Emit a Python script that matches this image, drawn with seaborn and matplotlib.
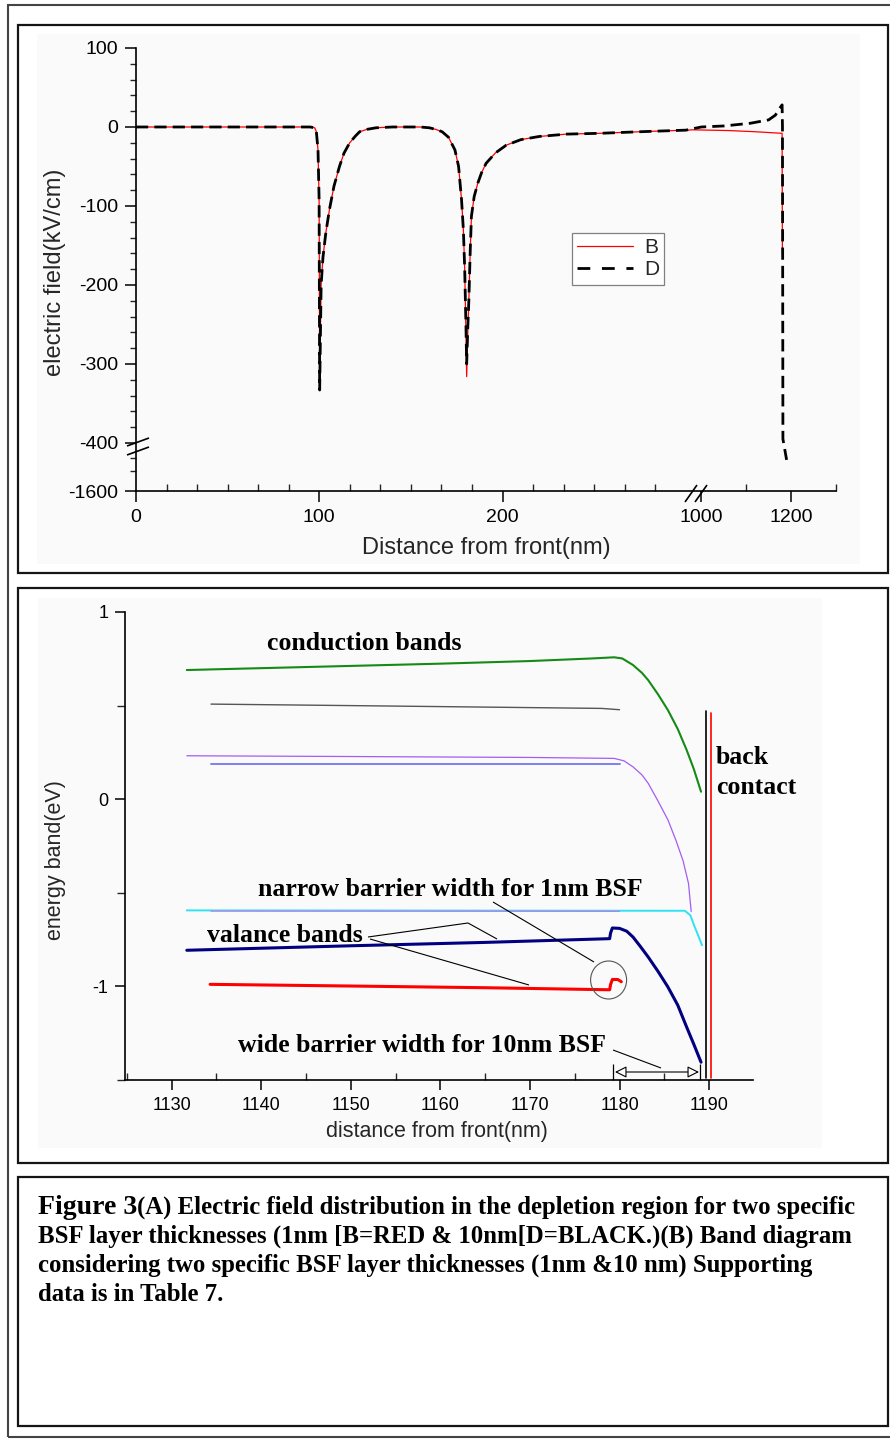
import numpy as np
import matplotlib
matplotlib.use("Agg")
import matplotlib.pyplot as plt
import seaborn as sns
from matplotlib.patches import Rectangle, Ellipse
from matplotlib.lines import Line2D
from matplotlib.ticker import FixedLocator

# ---------------- Panel A data: electric field (kV/cm) vs distance (nm) ----------------
field_x_B = [0, 50, 95, 97.5, 98.4, 99.3, 99.9, 100.2, 101.0, 102.0, 103.5, 105.5, 108,
             111, 113.5, 116.6, 119.5, 122, 126, 131, 140, 155, 160, 163.5, 167, 170.5,
             174, 176, 177.6, 178.6, 179.3, 180.0, 180.4, 181.0, 181.6, 182.3, 183,
             184.5, 186.5, 188.5, 191, 196, 202, 210, 220, 235, 253, 275, 300,
             600, 1000, 1060, 1120, 1180, 1180.6]
field_B = [0, 0, 0, -1, -6, -29, -92, -322, -200, -165, -135, -105, -75,
           -50, -33, -20, -12, -6, -3, -1, 0, 0, -1, -3, -6, -13,
           -29, -50, -92, -130, -177, -260, -316, -260, -219, -160, -113,
           -88, -71, -58, -46, -33, -23, -16, -12, -9, -8, -6, -4,
           -3.6, -3.8, -4.5, -6, -8, -160]

field_x_D = [0, 50, 95, 97.5, 98.4, 99.3, 99.9, 100.2, 101.0, 102.0, 103.5, 105.5, 108,
             111, 113.5, 116.6, 119.5, 122, 126, 131, 140, 155, 160, 163.5, 167, 170.5,
             174, 176, 177.6, 178.6, 179.3, 180.0, 180.4, 181.0, 181.6, 182.3, 183,
             184.5, 186.5, 188.5, 191, 196, 202, 210, 220, 235, 253, 275, 300,
             1000, 1050, 1109, 1150, 1165, 1175, 1180, 1180.8, 1181.3, 1181.8, 1190]
field_D = [0, 0, 0, -1, -6, -29, -92, -333, -200, -165, -135, -105, -75,
           -50, -33, -20, -12, -6, -3, -1, 0, 0, -1, -3, -6, -13,
           -29, -50, -92, -130, -177, -250, -300, -255, -219, -160, -113,
           -88, -71, -58, -46, -33, -23, -16, -12, -9, -8, -6, -4,
           0, 1.3, 4.7, 9, 15, 24, 28, 0, -200, -395, -660]

field_xticks = [0, 100, 200, 1000, 1200]
field_xticklabels = ["0", "100", "200", "1000", "1200"]
field_yticks = [100, 0, -100, -200, -300, -400, -1600]
field_yticklabels = ["100", "0", "-100", "-200", "-300", "-400", "-1600"]

# ---------------- Panel B data: energy bands (eV) vs distance (nm) ----------------
# 10 nm BSF
ec10_x = [1131.7, 1140, 1150, 1160, 1170, 1177, 1179.4, 1180.3, 1181.5, 1182.5, 1183.2,
          1184.3, 1185.4, 1186.5, 1187.5, 1188.3, 1189.1]
ec10 = [0.690, 0.700, 0.712, 0.724, 0.738, 0.752, 0.758, 0.752, 0.717, 0.675, 0.636,
        0.560, 0.476, 0.375, 0.262, 0.160, 0.040]
efn10_x = [1131.7, 1150, 1170, 1179.4, 1180.5, 1181.5, 1182.5, 1183.2, 1184.3, 1185.4,
           1186.3, 1187.1, 1187.7, 1188.0]
efn10 = [0.232, 0.228, 0.223, 0.218, 0.205, 0.173, 0.130, 0.085, -0.010, -0.110,
         -0.220, -0.330, -0.450, -0.600]
efp10_x = [1131.7, 1160, 1187.3, 1187.9, 1188.4, 1188.8, 1189.2]
efp10 = [-0.594, -0.595, -0.596, -0.620, -0.683, -0.730, -0.780]
ev10_x = [1131.7, 1150, 1165, 1178.9, 1179.0, 1179.2, 1180.0, 1180.8, 1181.5, 1182.3,
          1183.2, 1184.3, 1185.4, 1186.5, 1187.5, 1188.3, 1189.1]
ev10 = [-0.807, -0.783, -0.765, -0.745, -0.715, -0.688, -0.690, -0.705, -0.736, -0.785,
        -0.843, -0.920, -1.003, -1.100, -1.218, -1.310, -1.405]
# 1 nm BSF
ec1_x = [1134.4, 1150, 1165, 1178, 1180]
ec1 = [0.508, 0.500, 0.492, 0.485, 0.478]
efn1_x = [1134.4, 1180]
efn1 = [0.188, 0.188]
efp1_x = [1134.4, 1180]
efp1 = [-0.598, -0.599]
ev1_x = [1134.3, 1150, 1165, 1178.9, 1179.0, 1179.2, 1179.8, 1180.2]
ev1 = [-0.989, -0.998, -1.007, -1.018, -0.990, -0.963, -0.963, -0.975]
# back contact positions (nm) and extent (eV)
contact_x = [1189.6, 1190.2]
contact_top = [0.47, 0.46]
contact_bottom = -1.49

band_xticks = [1130, 1140, 1150, 1160, 1170, 1180, 1190]
band_yticks = [-1, 0, 1]

# ---------------- styles ----------------
band_styles = [
    (ec10_x, ec10, "#168a16", 1.5),
    (ec1_x, ec1, "#555555", 1.0),
    (efn10_x, efn10, "#a45cf2", 0.9),
    (efn1_x, efn1, "#7474ee", 1.3),
    (efp10_x, efp10, "#2fe2f2", 1.4),
    (efp1_x, efp1, "#d26ce6", 0.8),
    (ev10_x, ev10, "#000080", 2.2),
    (ev1_x, ev1, "#ff0000", 2.2),
]
contact_colors = ["black", "red"]

sns.set_style("ticks")
plt.rcParams["font.family"] = ["Liberation Sans", "DejaVu Sans"]

W, H = 890, 1441
fig = plt.figure(figsize=(W / 100, H / 100), dpi=100)
fig.patch.set_facecolor("white")


def fx(px):
    return px / W


def fy(py):
    return 1 - py / H


def axes_px(l, t, r, b):
    return fig.add_axes([fx(l), fy(b), (r - l) / W, (b - t) / H])


def rect(l, t, r, b, **kw):
    fig.add_artist(Rectangle((fx(l), fy(b)), (r - l) / W, (b - t) / H,
                             transform=fig.transFigure, **kw))


def pline(pts, lw=0.8, color="black"):
    fig.add_artist(Line2D([fx(p[0]) for p in pts], [fy(p[1]) for p in pts],
                          transform=fig.transFigure, lw=lw, color=color,
                          solid_capstyle="butt"))


# frames and faint plot backgrounds
rect(37, 34, 860, 564, fill=True, fc="#fafafa", ec="none", zorder=0)
rect(38, 598, 822, 1148, fill=True, fc="#fafafa", ec="none", zorder=0)
rect(8, 5, 900, 1437, fill=False, ec="#444444", lw=1.5, zorder=1)
for (t, b) in [(25, 573), (588, 1163), (1177, 1426)]:
    rect(18, t, 888, b, fill=False, ec="#151515", lw=1.6, zorder=1)

# ---------------- Panel A ----------------
def fwd_x(x):
    x = np.asarray(x, dtype=float)
    return np.where(x <= 300, x,
                    np.where(x >= 1000, 308.4 + (x - 1000) * 0.245,
                             300 + (x - 300) * (8.4 / 700)))


def inv_x(u):
    u = np.asarray(u, dtype=float)
    return np.where(u <= 300, u,
                    np.where(u >= 308.4, 1000 + (u - 308.4) / 0.245,
                             300 + (u - 300) * (700 / 8.4)))


def fwd_y(y):
    y = np.asarray(y, dtype=float)
    return np.where(y >= -411, y, -411 + (y + 411) * 0.0419)


def inv_y(u):
    u = np.asarray(u, dtype=float)
    return np.where(u >= -411, u, -411 + (u + 411) / 0.0419)


ax1 = axes_px(136, 48, 836, 491)
ax1.set_facecolor("none")
ax1.set_xscale("function", functions=(fwd_x, inv_x))
ax1.set_yscale("function", functions=(fwd_y, inv_y))

sns.lineplot(x=field_x_B, y=field_B, ax=ax1, color="red", lw=0.9, sort=False,
             estimator=None, legend=False, zorder=3)
sns.lineplot(x=field_x_D, y=field_D, ax=ax1, color="black", lw=2.0, sort=False,
             estimator=None, legend=False, linestyle=(0, (4.4, 2.2)), zorder=4)

ax1.set_xlim(0, 1300)
ax1.set_ylim(-1600, 100)
ax1.xaxis.set_major_locator(FixedLocator(field_xticks))
ax1.set_xticklabels(field_xticklabels)
minor_x = [v for v in np.arange(0, 300, 100 / 6) if abs(v % 100) > 1] + [1100, 1300]
ax1.xaxis.set_minor_locator(FixedLocator(minor_x))
ax1.yaxis.set_major_locator(FixedLocator(field_yticks))
ax1.set_yticklabels(field_yticklabels)
minor_y = [v for v in range(-380, 100, 20) if v % 100 != 0] + [-600, -1000]
ax1.yaxis.set_minor_locator(FixedLocator(minor_y))
ax1.tick_params(which="major", direction="out", length=8, width=1.1, labelsize=14, pad=5,
                colors="black")
ax1.tick_params(axis="x", which="minor", direction="in", length=5, width=1.0)
ax1.tick_params(axis="y", which="minor", direction="out", length=4.5, width=1.0)
for s in ["top", "right"]:
    ax1.spines[s].set_visible(False)
for s in ["left", "bottom"]:
    ax1.spines[s].set_linewidth(1.2)
    ax1.spines[s].set_color("black")
ax1.set_xlabel("Distance from front(nm)", fontsize=17)
ax1.set_ylabel("electric field(kV/cm)", fontsize=17)
ax1.xaxis.label.set_va("center")
ax1.yaxis.label.set_va("center")
ax1.xaxis.set_label_coords((486 - 136) / 700, (491 - 548) / 443)
ax1.yaxis.set_label_coords((55 - 136) / 700, (491 - 272) / 443)

# axis break marks
pline([(685, 502), (697, 485)], lw=1.2)
pline([(695, 502), (707, 485)], lw=1.2)
pline([(127, 446), (149, 438)], lw=1.2)
pline([(127, 455), (149, 447)], lw=1.2)

handles = [Line2D([], [], color="red", lw=0.9),
           Line2D([], [], color="black", lw=2.0, ls=(0, (4.6, 4.2)))]
leg = ax1.legend(handles, ["B", "D"], loc="upper left",
                 bbox_to_anchor=(fx(572), fy(233)), bbox_transform=fig.transFigure,
                 frameon=True, fancybox=False, edgecolor="#808080", framealpha=1,
                 fontsize=15, handlelength=2.7, borderpad=0.25, labelspacing=0.15,
                 handletextpad=0.5, borderaxespad=0)
leg.get_frame().set_linewidth(0.9)

# ---------------- Panel B ----------------
ax2 = axes_px(125, 612, 753, 1080)
ax2.set_facecolor("none")
for xs, ys, col, lw in band_styles:
    sns.lineplot(x=xs, y=ys, ax=ax2, color=col, lw=lw, sort=False, estimator=None,
                 legend=False)
for cx, top, col in zip(contact_x, contact_top, contact_colors):
    sns.lineplot(x=[cx, cx], y=[contact_bottom, top], ax=ax2, color=col, lw=1.2,
                 sort=False, estimator=None, legend=False)

ax2.set_xlim(1124.8, 1194.9)
ax2.set_ylim(-1.5, 1.0)
ax2.xaxis.set_major_locator(FixedLocator(band_xticks))
ax2.xaxis.set_minor_locator(FixedLocator([1125, 1135, 1145, 1155, 1165, 1175, 1185, 1195]))
ax2.yaxis.set_major_locator(FixedLocator(band_yticks))
ax2.yaxis.set_minor_locator(FixedLocator([-1.5, -0.5, 0.5]))
ax2.set_yticklabels([str(v) for v in band_yticks])
ax2.tick_params(which="major", direction="out", length=7, width=1.1, labelsize=13, pad=5,
                colors="black")
ax2.tick_params(axis="x", which="minor", direction="in", length=5, width=1.0)
ax2.tick_params(axis="y", which="minor", direction="out", length=6, width=1.0)
for s in ["top", "right"]:
    ax2.spines[s].set_visible(False)
for s in ["left", "bottom"]:
    ax2.spines[s].set_linewidth(1.2)
    ax2.spines[s].set_color("black")
ax2.set_xlabel("distance from front(nm)", fontsize=15.5)
ax2.set_ylabel("energy band(eV)", fontsize=15.5)
ax2.xaxis.label.set_va("center")
ax2.yaxis.label.set_va("center")
ax2.xaxis.set_label_coords((437 - 125) / 628, (1080 - 1131) / 468)
ax2.yaxis.set_label_coords((55 - 125) / 628, (1080 - 860) / 468)

serif = dict(fontfamily=["Liberation Serif", "DejaVu Serif"], fontweight="bold",
             fontsize=18.5, va="center", ha="left", color="black")
fig.text(fx(267), fy(644), "conduction bands", **serif)
fig.text(fx(716), fy(758), "back", **serif)
fig.text(fx(716), fy(788), "contact", **serif)
fig.text(fx(258), fy(890), "narrow barrier width for 1nm BSF", **serif)
fig.text(fx(207), fy(935), "valance bands", **serif)
fig.text(fx(238), fy(1046), "wide barrier width for 10nm BSF", **serif)

# leader lines, circle and width arrow
pline([(368, 937), (468, 923), (497, 939)], lw=0.8)
pline([(370, 939), (529, 985)], lw=0.8)
pline([(493, 902), (594, 962)], lw=0.8)
pline([(613, 1050), (661, 1068)], lw=0.8)
fig.add_artist(Ellipse((fx(608.6), fy(980)), 36 / W, 38 / H, transform=fig.transFigure,
                       fill=False, ec="#555555", lw=0.8))
pline([(613, 1064), (613, 1080)], lw=0.9)
pline([(700, 1064), (700, 1080)], lw=0.9)
fig.add_artist(matplotlib.patches.FancyArrowPatch(
    (fx(615), fy(1072)), (fx(699), fy(1072)), transform=fig.transFigure,
    arrowstyle="<|-|>,head_length=7,head_width=3.5", fc="white", ec="black", lw=0.8,
    shrinkA=0, shrinkB=0))

# ---------------- caption ----------------
cap = dict(fontfamily=["Liberation Serif", "DejaVu Serif"], fontweight="bold",
           va="baseline", ha="left", color="black")
t1 = fig.text(fx(38), fy(1214), "Figure 3", fontsize=20, **cap)
fig.canvas.draw()
bb = t1.get_window_extent()
fig.text(bb.x1 / W, fy(1214),
         "(A) Electric field distribution in the depletion region for two specific",
         fontsize=17.8, **cap)
fig.text(fx(38), fy(1243),
         "BSF layer thicknesses (1nm [B=RED & 10nm[D=BLACK.)(B) Band diagram",
         fontsize=17.8, **cap)
fig.text(fx(38), fy(1272),
         "considering two specific BSF layer thicknesses (1nm &10 nm) Supporting",
         fontsize=17.8, **cap)
fig.text(fx(38), fy(1301), "data is in Table 7.", fontsize=17.8, **cap)

fig.savefig("out.png", dpi=100, facecolor="white")
